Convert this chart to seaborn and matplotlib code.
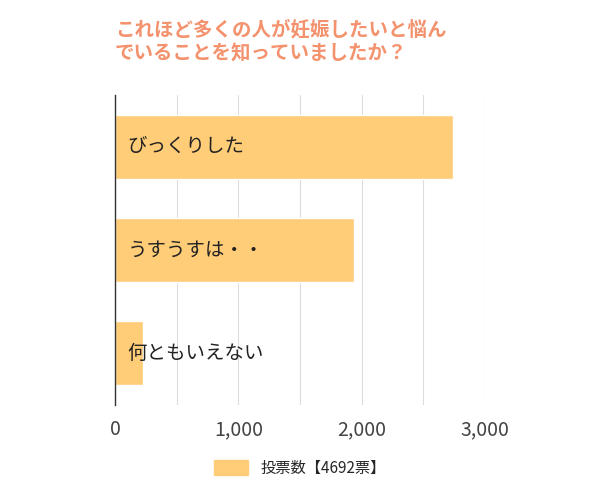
import matplotlib
matplotlib.use("Agg")
import matplotlib.pyplot as plt
import seaborn as sns
import pandas as pd
from matplotlib.patches import Patch

categories = ["びっくりした", "うすうすは・・", "何ともいえない"]
votes = [2740, 1935, 228]
legend_label = "投票数【4692票】"
title = "これほど多くの人が妊娠したいと悩ん\nでいることを知っていましたか？"

sns.set_style("white")
plt.rcParams["font.family"] = ["Noto Sans CJK JP", "DejaVu Sans"]

df = pd.DataFrame({"cat": categories, "votes": votes})
fig = plt.figure(figsize=(6, 5), dpi=100)
ax = fig.add_axes([115 / 600, 95 / 500, 370 / 600, 310 / 500])
bar_color = "#FFCC77"
sns.barplot(data=df, y="cat", x="votes", color=bar_color, saturation=1, width=0.62, ax=ax, zorder=2)

ax.set_xlim(0, 3000)
ax.set_xticks([0, 1000, 2000, 3000])
ax.set_xticklabels(["0", "1,000", "2,000", "3,000"], fontsize=14, color="#444444")
ax.set_xticks([500, 1500, 2500], minor=True)
ax.grid(axis="x", which="both", color="#dddddd", linewidth=0.8, zorder=0)
ax.tick_params(axis="x", length=0, pad=10)
ax.set_yticks([])
ax.set_xlabel("")
ax.set_ylabel("")
for s in ["top", "right", "bottom"]:
    ax.spines[s].set_visible(False)
ax.spines["left"].set_color("#333333")
ax.spines["left"].set_linewidth(1)

for i, c in enumerate(categories):
    ax.text(100, i, c, va="center", ha="left", fontsize=14, color="#222222", zorder=3)

fig.text(115 / 600, 1 - 20 / 500, title, ha="left", va="top", fontsize=14,
         fontweight="bold", color="#F4926E", linespacing=1.3)

fig.legend(handles=[Patch(color=bar_color, label=legend_label)], loc="center",
           bbox_to_anchor=(0.5, 1 - 468 / 500), frameon=False, fontsize=11,
           handlelength=2.2, handleheight=1.2)

fig.savefig("out.png", dpi=100)
